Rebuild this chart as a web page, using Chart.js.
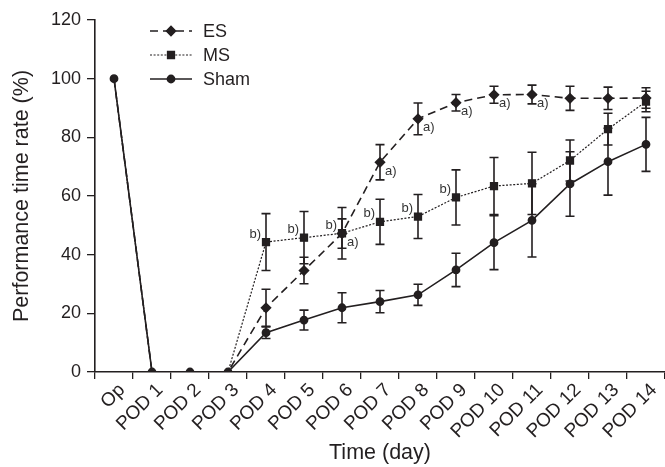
<!DOCTYPE html>
<html>
<head>
<meta charset="utf-8">
<script src="https://cdn.jsdelivr.net/npm/chart.js@4.4.1/dist/chart.umd.min.js"></script>
<style>
html,body{margin:0;padding:0;background:#fff;}
canvas{display:block;}
</style>
</head>
<body>
<canvas id="c" width="665" height="467"></canvas>
<script>
// ---- data ----
const categories = ['Op','POD 1','POD 2','POD 3','POD 4','POD 5','POD 6','POD 7','POD 8','POD 9','POD 10','POD 11','POD 12','POD 13','POD 14'];
const esValues   = [100,0,0,0,21.9,34.6,47.2,71.5,86.3,91.8,94.5,94.6,93.3,93.3,93.4];
const esErrors   = [0,0,0,0,6.3,4.5,5.0,6.0,5.4,2.8,2.9,3.2,4.1,3.8,3.5];
const msValues   = [100,0,0,0,44.3,45.8,47.3,51.2,53.0,59.5,63.4,64.3,72.1,82.8,92.2];
const msErrors   = [0,0,0,0,9.7,8.9,8.8,7.7,7.5,9.4,9.7,10.6,7.0,5.4,3.5];
const shamValues = [100,0,0,0,13.4,17.7,21.9,24.0,26.3,34.8,44.1,51.7,64.1,71.7,77.6];
const shamErrors = [0,0,0,0,2.0,3.4,5.1,3.8,3.6,5.7,9.2,12.5,11.0,11.4,9.2];
const esMarks = ['', '', '', '', '', '', 'a)', 'a)', 'a)', 'a)', 'a)', 'a)', '', '', ''];
const msMarks = ['', '', '', '', 'b)', 'b)', 'b)', 'b)', 'b)', 'b)', '', '', '', '', ''];
const yTicks = [0,20,40,60,80,100,120];

const INK = '#231f20';
const FONT = "'Liberation Sans', Arial, Helvetica, sans-serif";

// markers of ES/MS are hidden where all series share the same value (drawn as Sham circle)
function hideShared(r) {
  return (c) => (shamValues[c.dataIndex] === c.dataset.data[c.dataIndex] && c.dataIndex < 4) ? 0 : r;
}

const datasets = [
  {label:'ES', data: esValues, errors: esErrors, marks: esMarks, markSide: 'right',
   borderColor: INK, backgroundColor: INK, borderWidth: 1.6, borderDash: [8,5],
   pointStyle: 'rectRot', legendRadius: 4.5, pointRadius: hideShared(4.5), order: 1},
  {label:'MS', data: msValues, errors: msErrors, marks: msMarks, markSide: 'left',
   borderColor: INK, backgroundColor: INK, borderWidth: 1.2, borderDash: [2,1.6],
   pointStyle: 'rect', legendRadius: 5, pointRadius: hideShared(5), order: 2},
  {label:'Sham', data: shamValues, errors: shamErrors, marks: null,
   borderColor: INK, backgroundColor: INK, borderWidth: 1.6, borderDash: [],
   pointStyle: 'circle', legendRadius: 3.6, pointRadius: 3.6, order: 0}
];

const errorBars = {
  id: 'errorBars',
  afterDatasetsDraw(chart) {
    const ctx = chart.ctx, ys = chart.scales.y;
    ctx.save();
    ctx.strokeStyle = INK; ctx.lineWidth = 1.6; ctx.setLineDash([]);
    chart.data.datasets.forEach((ds, di) => {
      const meta = chart.getDatasetMeta(di);
      ds.data.forEach((v, i) => {
        const e = ds.errors[i];
        if (!e) return;
        const x = meta.data[i].x;
        const yt = ys.getPixelForValue(v + e), yb = ys.getPixelForValue(v - e);
        const w = 4.5;
        ctx.beginPath();
        ctx.moveTo(x, yt); ctx.lineTo(x, yb);
        ctx.moveTo(x - w, yt); ctx.lineTo(x + w, yt);
        ctx.moveTo(x - w, yb); ctx.lineTo(x + w, yb);
        ctx.stroke();
      });
    });
    ctx.restore();
  }
};

const marksPlugin = {
  id: 'marks',
  afterDatasetsDraw(chart) {
    const ctx = chart.ctx;
    ctx.save();
    ctx.fillStyle = '#333';
    ctx.font = '13px ' + FONT;
    ctx.textBaseline = 'middle';
    chart.data.datasets.forEach((ds, di) => {
      if (!ds.marks) return;
      const meta = chart.getDatasetMeta(di);
      ds.marks.forEach((m, i) => {
        if (!m) return;
        const p = meta.data[i];
        if (ds.markSide === 'right') {
          ctx.textAlign = 'left';
          ctx.fillText(m, p.x + 5, p.y + 9);
        } else {
          ctx.textAlign = 'right';
          ctx.fillText(m, p.x - 5, p.y - 8);
        }
      });
    });
    ctx.restore();
  }
};

const legendPlugin = {
  id: 'customLegend',
  afterDraw(chart) {
    const ctx = chart.ctx, a = chart.chartArea;
    ctx.save();
    ctx.font = '18px ' + FONT;
    ctx.textBaseline = 'middle';
    ctx.textAlign = 'left';
    chart.data.datasets.forEach((ds, i) => {
      const y = a.top + 11 + i * 24;
      const x0 = a.left + 55, x1 = a.left + 97, xm = (x0 + x1) / 2;
      ctx.strokeStyle = INK; ctx.lineWidth = ds.borderWidth;
      ctx.setLineDash(ds.borderDash);
      ctx.beginPath(); ctx.moveTo(x0, y); ctx.lineTo(x1, y); ctx.stroke();
      ctx.setLineDash([]);
      Chart.helpers.drawPoint(ctx, {pointStyle: ds.pointStyle, radius: ds.legendRadius, borderWidth: 1}, xm, y);
      ctx.fillStyle = INK;
      ctx.fill();
      ctx.fillText(ds.label, a.left + 108, y + 1);
    });
    ctx.restore();
  }
};

new Chart(document.getElementById('c'), {
  type: 'line',
  data: { labels: categories, datasets: datasets },
  options: {
    responsive: false,
    animation: false,
    devicePixelRatio: 1,
    layout: { autoPadding: false, padding: { top: 20, right: 0, left: 0, bottom: 0 } },
    plugins: { legend: { display: false }, tooltip: { enabled: false } },
    elements: { line: { tension: 0 }, point: { borderWidth: 1 } },
    scales: {
      x: {
        type: 'category',
        offset: true,
        grid: { display: true, offset: true, drawOnChartArea: false, drawTicks: true, tickLength: 7, color: INK, lineWidth: 1.3 },
        border: { display: true, color: INK, width: 1.6 },
        ticks: { color: INK, font: { size: 19, family: FONT }, minRotation: 45, maxRotation: 45, autoSkip: false, padding: 0, labelOffset: 8 },
        title: { display: true, text: 'Time (day)', color: INK, font: { size: 21.5, family: FONT, lineHeight: 1.2 }, padding: { top: 0, bottom: 1 } },
        afterFit(s) { s.height = 95; s.paddingLeft = 0; s.paddingRight = 0; }
      },
      y: {
        min: 0, max: 120,
        afterBuildTicks(s) { s.ticks = yTicks.map(v => ({ value: v })); },
        grid: { display: true, drawOnChartArea: false, drawTicks: true, tickLength: 8, color: INK, lineWidth: 1.3 },
        border: { display: true, color: INK, width: 1.6 },
        ticks: { color: INK, font: { size: 18, family: FONT }, padding: 6 },
        title: { display: true, text: 'Performance time rate (%)', color: INK, font: { size: 21.5, family: FONT, lineHeight: 1.2 }, padding: { top: 9, bottom: 0 } },
        afterFit(s) { s.width = 95; s.paddingTop = 0; s.paddingBottom = 0; }
      }
    }
  },
  plugins: [errorBars, marksPlugin, legendPlugin]
});
</script>
</body>
</html>
